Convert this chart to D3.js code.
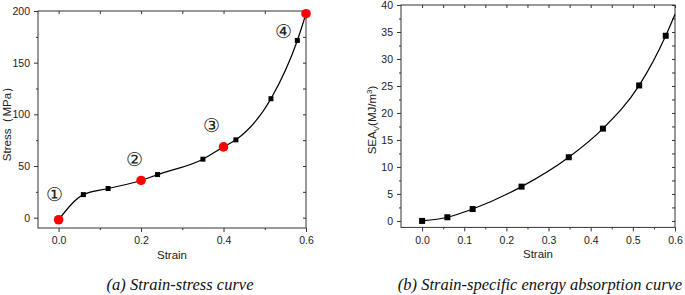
<!DOCTYPE html>
<html>
<head>
<meta charset="utf-8">
<script src="https://cdn.jsdelivr.net/npm/d3@7"></script>
<style>
  body { margin: 0; background: #fff; }
  svg text { font-family: "Liberation Sans", Arial, sans-serif; }
</style>
</head>
<body>
<div id="chart-area"></div>
<script>

// (a) strain-stress
var stressStrain = [0.06, 0.12, 0.24, 0.35, 0.43, 0.515, 0.579];
var stressValue = [22.3, 28.2, 41.7, 56.6, 75.3, 115.1, 171.5];
var stageStrain = [0.0, 0.2, 0.4, 0.6];
var stageStress = [-2, 36, 68.5, 197.4];
var stageLabels = ["①", "②", "③", "④"];
var stageLabelStrain = [-0.01, 0.185, 0.37, 0.545];
var stageLabelStress = [23, 56, 89, 180];

// (b) strain-SEA
var seaStrain = [0.0, 0.06, 0.12, 0.236, 0.348, 0.429, 0.515, 0.578];
var seaValue = [0.0, 0.68, 2.2, 6.35, 11.8, 17.1, 25.1, 34.3];
var seaEndStrain = 0.6, seaEndValue = 38.3;

var xTicksA = [0, 0.2, 0.4, 0.6];
var xMinorA = [0.1, 0.3, 0.5];
var yTicksA = [0, 50, 100, 150, 200];
var yMinorA = [25, 75, 125, 175];
var xTicksB = [0, 0.1, 0.2, 0.3, 0.4, 0.5, 0.6];
var xMinorB = [0.05, 0.15, 0.25, 0.35, 0.45, 0.55];
var yTicksB = [0, 5, 10, 15, 20, 25, 30, 35, 40];
var yMinorB = [2.5, 7.5, 12.5, 17.5, 22.5, 27.5, 32.5, 37.5];

var svg = d3.select("#chart-area")
    .append("svg")
    .attr("width", 685)
    .attr("height", 295);

function drawFrame(g, x, y, o) {
    var w = x.range()[1], h = y.range()[0];
    var axisColor = "#333";

    g.append("rect")
        .attr("width", w).attr("height", h)
        .attr("fill", "none")
        .attr("stroke", axisColor)
        .attr("stroke-width", 1);

    // outside major ticks + labels
    g.append("g")
        .attr("transform", "translate(0," + h + ")")
        .call(d3.axisBottom(x).tickValues(o.xTicks).tickSize(4).tickPadding(5).tickFormat(d3.format(".1f")));
    g.append("g")
        .call(d3.axisLeft(y).tickValues(o.yTicks).tickSize(4).tickPadding(4).tickFormat(d3.format("d")));
    // outside minor ticks
    g.append("g")
        .attr("transform", "translate(0," + h + ")")
        .call(d3.axisBottom(x).tickValues(o.xMinor).tickSize(2).tickFormat(""));
    g.append("g")
        .call(d3.axisLeft(y).tickValues(o.yMinor).tickSize(2).tickFormat(""));
    // inside ticks on top and right
    g.append("g")
        .call(d3.axisBottom(x).tickValues(o.xTicks.concat(o.xMinor)).tickSize(3).tickFormat(""));
    g.append("g")
        .attr("transform", "translate(" + w + ",0)")
        .call(d3.axisLeft(y).tickValues(o.yTicks.concat(o.yMinor)).tickSize(3).tickFormat(""));

    g.selectAll(".domain").remove();
    g.selectAll(".tick line").attr("stroke", axisColor);
    g.selectAll(".tick text")
        .attr("fill", "#222")
        .style("font-size", "10.5px");

    g.append("text")
        .attr("x", w / 2)
        .attr("y", h + 31)
        .attr("text-anchor", "middle")
        .style("font-size", "11.5px")
        .attr("fill", "#222")
        .text("Strain");
}

// ---------- panel (a) ----------
var ga = svg.append("g").attr("transform", "translate(38,11)");
var xa = d3.scaleLinear().domain([-0.05, 0.6]).range([0, 268]);
var ya = d3.scaleLinear().domain([-10, 200]).range([217, 0]);

drawFrame(ga, xa, ya, { xTicks: xTicksA, xMinor: xMinorA, yTicks: yTicksA, yMinor: yMinorA });

var lineDataA = stageStrain.map(function(s, i) { return [s, stageStress[i]]; })
    .concat(stressStrain.map(function(s, i) { return [s, stressValue[i]]; }))
    .sort(function(a, b) { return a[0] - b[0]; });

ga.append("path")
    .datum(lineDataA)
    .attr("fill", "none")
    .attr("stroke", "#000")
    .attr("stroke-width", 1.2)
    .attr("d", d3.line()
        .x(function(d) { return xa(d[0]); })
        .y(function(d) { return ya(d[1]); })
        .curve(d3.curveMonotoneX));

ga.selectAll("rect.pt")
    .data(stressStrain)
    .enter().append("rect")
    .attr("class", "pt")
    .attr("x", function(d) { return xa(d) - 2.5; })
    .attr("y", function(d, i) { return ya(stressValue[i]) - 2.5; })
    .attr("width", 5).attr("height", 5)
    .attr("fill", "#000");

ga.selectAll("circle.stage")
    .data(stageStrain)
    .enter().append("circle")
    .attr("class", "stage")
    .attr("cx", function(d) { return xa(d); })
    .attr("cy", function(d, i) { return ya(stageStress[i]); })
    .attr("r", 4.8)
    .attr("fill", "#ff0000");

ga.selectAll("text.stage")
    .data(stageLabels)
    .enter().append("text")
    .attr("class", "stage")
    .attr("x", function(d, i) { return xa(stageLabelStrain[i]); })
    .attr("y", function(d, i) { return ya(stageLabelStress[i]); })
    .attr("text-anchor", "middle")
    .attr("dy", "0.35em")
    .style("font-family", "'DejaVu Serif', serif")
    .style("font-size", "19px")
    .attr("fill", "#222")
    .text(function(d) { return d; });

svg.append("text")
    .attr("transform", "translate(11," + 121 + ") rotate(-90)")
    .attr("text-anchor", "middle")
    .style("font-size", "11.5px")
    .attr("fill", "#222")
    .text("Stress（MPa）");

svg.append("text")
    .attr("x", 180)
    .attr("y", 290)
    .attr("text-anchor", "middle")
    .style("font-family", "'Liberation Serif', 'Times New Roman', serif")
    .style("font-style", "italic")
    .style("font-size", "16.5px")
    .attr("fill", "#111")
    .text("(a) Strain-stress curve");

// ---------- panel (b) ----------
var gb = svg.append("g").attr("transform", "translate(401,5)");
var xb = d3.scaleLinear().domain([-0.05, 0.6]).range([0, 274]);
var yb = d3.scaleLinear().domain([-1.2, 40]).range([222.4, 0]);

drawFrame(gb, xb, yb, { xTicks: xTicksB, xMinor: xMinorB, yTicks: yTicksB, yMinor: yMinorB });

var lineDataB = seaStrain.map(function(s, i) { return [s, seaValue[i]]; })
    .concat([[seaEndStrain, seaEndValue]]);

gb.append("path")
    .datum(lineDataB)
    .attr("fill", "none")
    .attr("stroke", "#000")
    .attr("stroke-width", 1.2)
    .attr("d", d3.line()
        .x(function(d) { return xb(d[0]); })
        .y(function(d) { return yb(d[1]); })
        .curve(d3.curveMonotoneX));

gb.selectAll("rect.pt")
    .data(seaStrain)
    .enter().append("rect")
    .attr("class", "pt")
    .attr("x", function(d) { return xb(d) - 3; })
    .attr("y", function(d, i) { return yb(seaValue[i]) - 3; })
    .attr("width", 6).attr("height", 6)
    .attr("fill", "#000");

var seaLabel = svg.append("text")
    .attr("transform", "translate(376," + 120 + ") rotate(-90)")
    .attr("text-anchor", "middle")
    .style("font-size", "11.5px")
    .attr("fill", "#222");
seaLabel.append("tspan").text("SEA");
seaLabel.append("tspan").attr("dy", 3).style("font-size", "8px").text("V");
seaLabel.append("tspan").attr("dy", -3).text("(MJ/m");
seaLabel.append("tspan").attr("dy", -4).style("font-size", "8px").text("3");
seaLabel.append("tspan").attr("dy", 4).text(")");

svg.append("text")
    .attr("x", 540)
    .attr("y", 290)
    .attr("text-anchor", "middle")
    .style("font-family", "'Liberation Serif', 'Times New Roman', serif")
    .style("font-style", "italic")
    .style("font-size", "16.5px")
    .attr("fill", "#111")
    .text("(b) Strain-specific energy absorption curve");

</script>
</body>
</html>
